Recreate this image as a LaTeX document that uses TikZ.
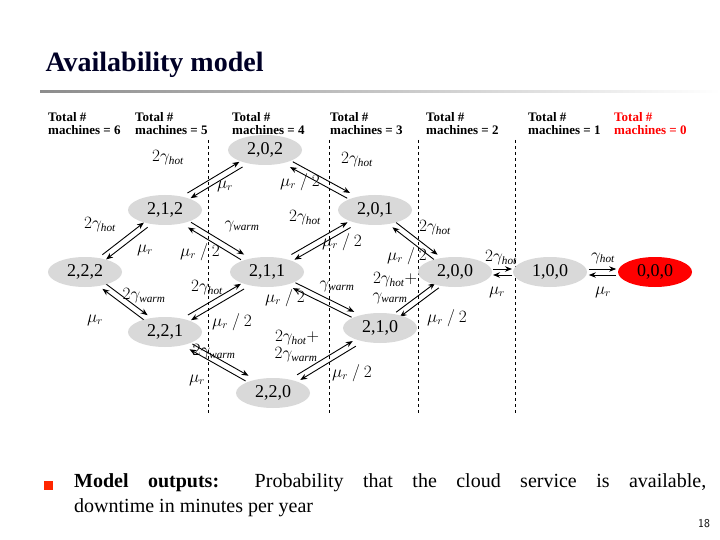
\documentclass[tikz,border=0pt]{standalone}
\usepackage{fontspec}
\setmainfont{Liberation Serif}
\usetikzlibrary{calc,shapes.geometric,arrows.meta}
\tikzset{
 st/.style={ellipse,fill=black!15,minimum width=74pt,minimum height=30pt,inner sep=0pt,font=\fontsize{18}{18}\selectfont},
 arr/.style={-{Stealth[length=7pt,width=5.5pt]},line width=0.9pt},
 lb/.style={font=\fontsize{16}{16}\selectfont,inner sep=0pt},
 hd/.style={font=\bfseries\fontsize{13}{13}\selectfont,align=left,anchor=north west,inner sep=0pt},
 dl/.style={dashed,line width=0.6pt}
}
\newcommand{\pairab}[3]{%
 \draw[arr] ($(#1)!#3!(#2)!3pt!90:(#2)$) -- ($(#2)!#3!(#1)!-3pt!90:(#1)$);
 \draw[arr] ($(#2)!#3!(#1)!3pt!90:(#1)$) -- ($(#1)!#3!(#2)!-3pt!90:(#2)$);}
\newcommand{\gh}{\gamma_{\mathit{hot}}}
\newcommand{\gw}{\gamma_{\mathit{warm}}}
\newcommand{\mr}{\mu_r}
\begin{document}
\begin{tikzpicture}[x=1pt,y=-1pt]
\useasboundingbox (0,0) rectangle (720,540);
\node[anchor=west,font=\bfseries\fontsize{28}{28}\selectfont,text=black!85!blue] (title) at (42,65) {Availability model};
\shade[left color=black!45,right color=white] (40,91) rectangle (720,93);
% headers
\foreach \x/\n in {48/6,135/5,232/4,330/3,426/2,528/1}
  \node[hd] (h\n) at (\x,112) {Total \#\\machines = \n};
\node[hd,text=red] (h0) at (614,112) {Total \#\\machines = 0};
% dashed lines
\foreach \x in {208,329,418,515} \draw[dl] (\x,140) -- (\x,415);
% arrows (drawn first, nodes on top)
\coordinate (c202) at (265,150);
\coordinate (c212) at (165,210);
\coordinate (c201) at (375,210);
\coordinate (c222) at (85,272);
\coordinate (c211) at (267,272);
\coordinate (c200) at (455,272);
\coordinate (c100) at (550,272);
\coordinate (c000) at (655,272);
\coordinate (c221) at (165,332);
\coordinate (c210) at (380,328);
\coordinate (c220) at (273,393);
\pairab{c212}{c202}{0.24}
\pairab{c202}{c201}{0.24}
\pairab{c222}{c212}{0.24}
\pairab{c212}{c211}{0.24}
\pairab{c211}{c201}{0.24}
\pairab{c201}{c200}{0.24}
\pairab{c222}{c221}{0.24}
\pairab{c221}{c211}{0.24}
\pairab{c211}{c210}{0.24}
\pairab{c210}{c200}{0.24}
\pairab{c221}{c220}{0.24}
\pairab{c220}{c210}{0.24}
\pairab{c200}{c100}{0.4}
\pairab{c100}{c000}{0.37}
% states
\node[st] (s202) at (c202) {2,0,2};
\node[st] (s212) at (c212) {2,1,2};
\node[st] (s201) at (c201) {2,0,1};
\node[st] (s222) at (c222) {2,2,2};
\node[st] (s211) at (c211) {2,1,1};
\node[st] (s200) at (c200) {2,0,0};
\node[st] (s100) at (c100) {1,0,0};
\node[st,fill=red] (s000) at (c000) {0,0,0};
\node[st] (s221) at (c221) {2,2,1};
\node[st] (s210) at (c210) {2,1,0};
\node[st] (s220) at (c220) {2,2,0};
% labels
\node[lb] (l1) at (168,158) {$2\gh$};
\node[lb] (l2) at (225,186) {$\mr$};
\node[lb] (l3) at (300,182) {$\mr\ /\ 2$};
\node[lb] (l4) at (357,160) {$2\gh$};
\node[lb] (l5) at (100,225) {$2\gh$};
\node[lb] (l6) at (145,250) {$\mr$};
\node[lb] (l7) at (242,226) {$\gw$};
\node[lb] (l8) at (200,252) {$\mr\ /\ 2$};
\node[lb] (l9) at (305,218) {$2\gh$};
\node[lb] (l10) at (342,242) {$\mr\ /\ 2$};
\node[lb] (l11) at (407,256) {$\mr\ /\ 2$};
\node[lb] (l12) at (435,228) {$2\gh$};
\node[lb] (l13) at (395,280) {$2\gh+$};
\node[lb] (l14) at (390,298) {$\gw$};
\node[lb] (l15) at (337,286) {$\gw$};
\node[lb] (l16) at (144,296) {$2\gw$};
\node[lb] (l17) at (95,320) {$\mr$};
\node[lb] (l18) at (207,288) {$2\gh$};
\node[lb] (l19) at (285,298) {$\mr\ /\ 2$};
\node[lb] (l20) at (232,322) {$\mr\ /\ 2$};
\node[lb] (l21) at (447,318) {$\mr\ /\ 2$};
\node[lb] (l22) at (214,352) {$2\gw$};
\node[lb] (l23) at (197,380) {$\mr$};
\node[lb] (l24) at (297,338) {$2\gh+$};
\node[lb] (l25) at (296,355) {$2\gw$};
\node[lb] (l26) at (352,373) {$\mr\ /\ 2$};
\node[lb] (l27) at (501,258) {$2\gh$};
\node[lb] (l28) at (497,292) {$\mr$};
\node[lb] (l29) at (603,258) {$\gh$};
\node[lb] (l30) at (603,292) {$\mr$};
% bullet text
\fill[red!70!orange] (44,481) rectangle (53,490);
\node[anchor=north west,text width=632pt,align=justify,inner sep=0pt,font=\fontsize{20}{25}\selectfont] (txt) at (74,473)
 {\textbf{Model outputs:} Probability that the cloud service is available,\linebreak downtime in minutes per year};
\node[font=\sffamily\fontsize{12}{12}\selectfont] (pg) at (704,524) {18};
\end{tikzpicture}
\end{document}
